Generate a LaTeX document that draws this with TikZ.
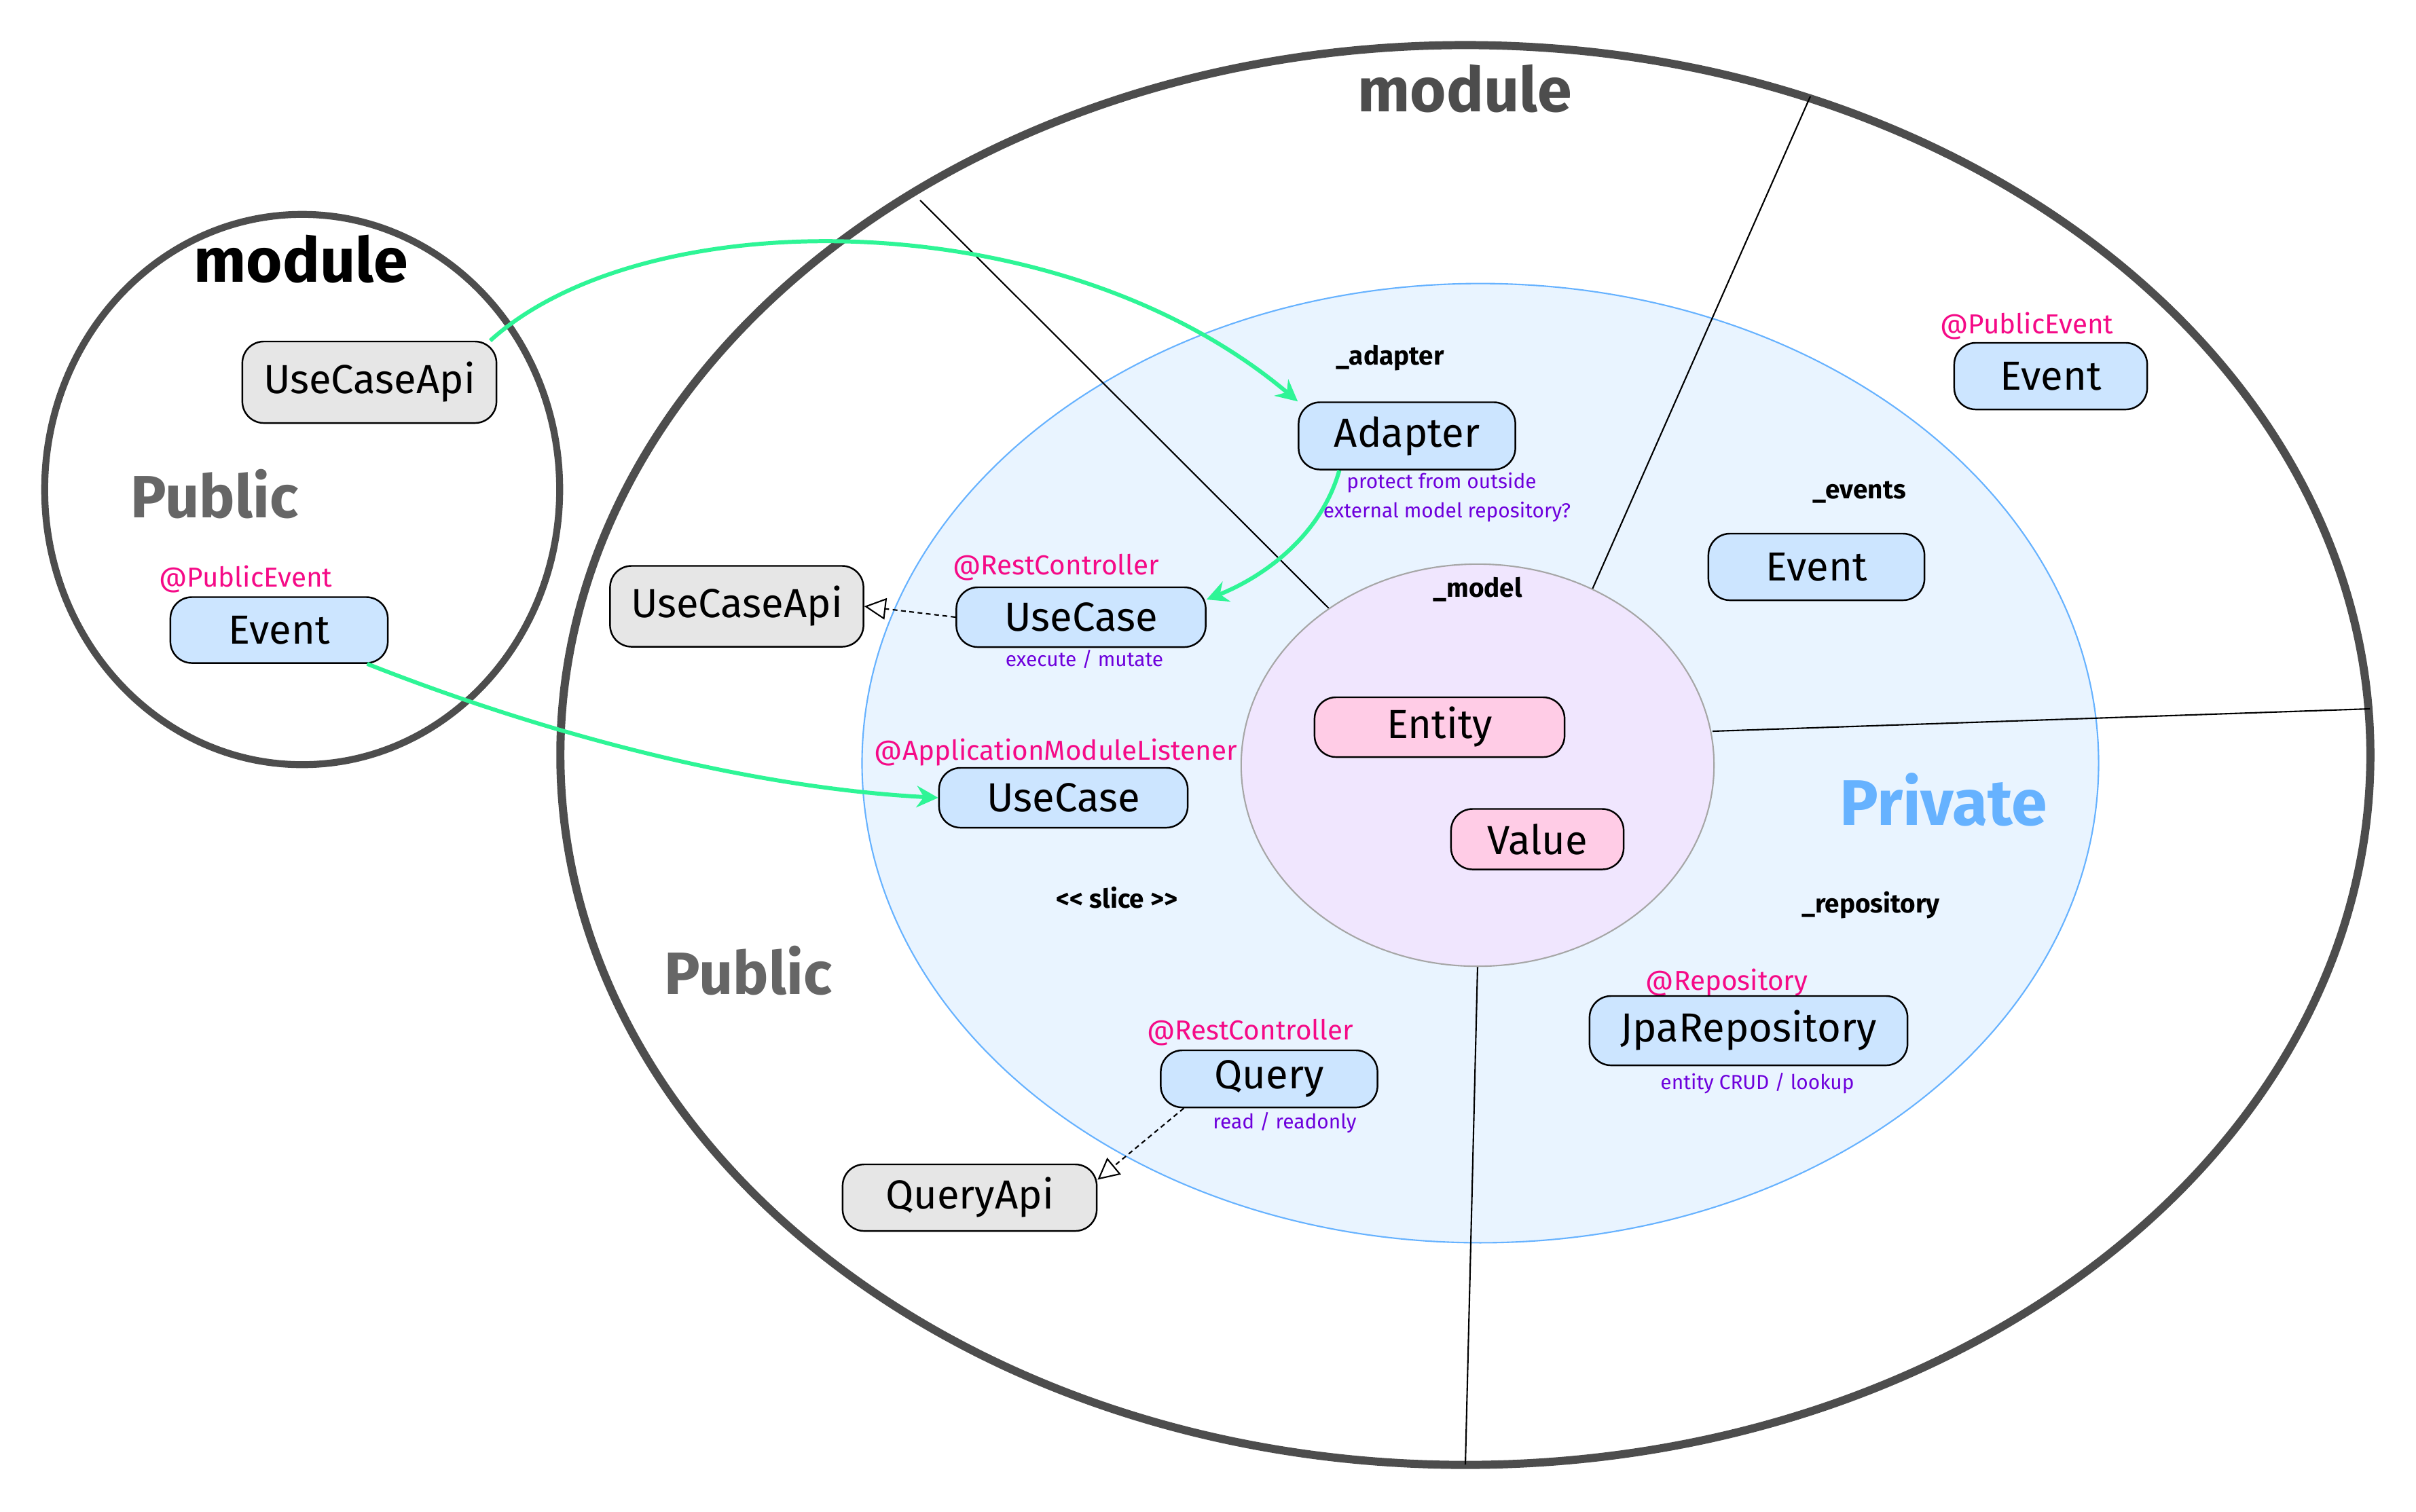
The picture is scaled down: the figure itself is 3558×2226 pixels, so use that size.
\documentclass[tikz,border=0pt]{standalone}
\usepackage{fontspec}
\setmainfont{Fira Sans}
\usetikzlibrary{arrows.meta}
\definecolor{outl}{HTML}{4D4D4D}
\definecolor{pubgrey}{HTML}{666666}
\definecolor{privblue}{HTML}{66B2FF}
\definecolor{slicefill}{HTML}{E9F4FF}
\definecolor{modelfill}{HTML}{F0E6FE}
\definecolor{modelline}{HTML}{A6A6A6}
\definecolor{boxblue}{HTML}{CCE5FF}
\definecolor{boxgrey}{HTML}{E6E6E6}
\definecolor{boxpink}{HTML}{FFCCE6}
\definecolor{annopink}{HTML}{F50A87}
\definecolor{cappurple}{HTML}{6E00DC}
\definecolor{flow}{HTML}{2EF596}
\begin{document}
\begin{tikzpicture}[x=0.01cm,y=-0.01cm,
  box/.style={draw=black, line width=0.7pt, rounded corners=9pt, inner sep=0pt,
    font=\fontsize{17}{20}\selectfont},
  bluebox/.style={box, fill=boxblue},
  greybox/.style={box, fill=boxgrey},
  pinkbox/.style={box, fill=boxpink},
  anno/.style={text=annopink, inner sep=0pt, font=\fontsize{11.5}{13}\selectfont},
  capt/.style={text=cappurple, inner sep=0pt, font=\fontsize{8.5}{10}\selectfont},
  pkg/.style={inner sep=0pt, font=\bfseries\fontsize{11}{13}\selectfont},
  title/.style={inner sep=0pt, font=\bfseries\fontsize{26}{30}\selectfont},
  zone/.style={inner sep=0pt, font=\bfseries\fontsize{25}{30}\selectfont},
  sep/.style={draw=black, line width=0.6pt},
  flowarrow/.style={draw=flow, line width=1.7pt, -{Stealth[length=9pt,width=9pt,inset=3pt]}},
  implarrow/.style={draw=black, line width=0.6pt, dash pattern=on 2pt off 1.5pt,
    -{Triangle[open,length=9pt,width=9pt]}}
]
\useasboundingbox[fill=white] (0,0) rectangle (3558,2226);

% ---------- left module ----------
\draw[outl, line width=2.9pt] (445,721) ellipse [x radius=3.79cm, y radius=4.05cm];
\node[title] (moduleL) at (443,382) {module};
\node[greybox, minimum width=3.74cm, minimum height=1.20cm] (ucapiL) at (544,563) {UseCaseApi};
\node[zone, text=pubgrey] (publicL) at (316,728) {Public};
\node[anno] (pubevL) at (362,853) {@PublicEvent};
\node[bluebox, minimum width=3.20cm, minimum height=0.97cm] (eventL) at (411,928) {Event};

% ---------- big module ----------
\draw[outl, line width=3.4pt] (2158,1112) ellipse [x radius=13.32cm, y radius=10.45cm];
\draw[draw=privblue, fill=slicefill, line width=0.6pt] (2180,1124) ellipse [x radius=9.10cm, y radius=7.06cm];

\coordinate (s1a) at (1355,295);
\coordinate (s1b) at (1961,900);
\coordinate (s2a) at (2666,142);
\coordinate (s2b) at (2344,870);
\coordinate (s3a) at (2522,1077);
\coordinate (s3b) at (3490,1044);
\coordinate (s4a) at (2176,1423);
\coordinate (s4b) at (2158,2157);
\draw[sep] (s1a) -- (s1b);
\draw[sep] (s2a) -- (s2b);
\draw[sep] (s3a) -- (s3b);
\draw[sep] (s4a) -- (s4b);

\draw[draw=modelline, fill=modelfill, line width=0.6pt] (2176,1127) ellipse [x radius=3.48cm, y radius=2.96cm];

\node[title, text=outl] (moduleR) at (2157,131) {module};

% adapter
\node[pkg] (adapterlbl) at (2047,527) {\_adapter};
\node[bluebox, minimum width=3.19cm, minimum height=0.99cm] (adapter) at (2072,642) {Adapter};
\node[capt] (protect) at (2123,711) {protect from outside};
\node[capt] (external) at (2131,754) {external model repository?};

% use case (rest)
\node[anno] (restA) at (1555,836) {@RestController};
\node[bluebox, minimum width=3.67cm, minimum height=0.88cm] (ucr) at (1592,909) {UseCase};
\node[capt] (exec) at (1597,971) {execute / mutate};
\node[greybox, minimum width=3.73cm, minimum height=1.19cm] (ucapiM) at (1085,893) {UseCaseApi};

% use case (listener)
\node[anno] (listener) at (1555,1108) {@ApplicationModuleListener};
\node[bluebox, minimum width=3.66cm, minimum height=0.88cm] (ucl) at (1566,1175) {UseCase};

\node[pkg] (slice) at (1645,1322) {<\kern0pt< slice >\kern0pt>};
\node[zone, text=pubgrey] (publicR) at (1102,1430) {Public};

% query
\node[anno] (restB) at (1841,1521) {@RestController};
\node[bluebox, minimum width=3.19cm, minimum height=0.84cm] (query) at (1869,1589) {Query};
\node[capt] (readonly) at (1892,1654) {read / readonly};
\node[greybox, minimum width=3.74cm, minimum height=0.98cm] (qapi) at (1428,1764) {QueryApi};

% events
\node[anno] (pubevR) at (2985,480) {@PublicEvent};
\node[bluebox, minimum width=2.84cm, minimum height=0.98cm] (eventTR) at (3020,554) {Event};
\node[pkg] (eventslbl) at (2738,725) {\_events};
\node[bluebox, minimum width=3.18cm, minimum height=0.98cm] (eventI) at (2675,835) {Event};

\node[inner sep=0pt, text=privblue, font=\bfseries\fontsize{27}{32}\selectfont] (private) at (2862,1178) {Private};

% repository
\node[pkg] (repolbl) at (2755,1333) {\_repository};
\node[anno] (atrepo) at (2543,1447) {@Repository};
\node[bluebox, minimum width=4.68cm, minimum height=1.02cm] (jpa) at (2575,1518) {JpaRepository};
\node[capt] (crud) at (2588,1596) {entity CRUD / lookup};

% model
\node[pkg] (modellbl) at (2176,868) {\_model};
\node[pinkbox, minimum width=3.68cm, minimum height=0.88cm] (entity) at (2120,1071) {Entity};
\node[pinkbox, minimum width=2.54cm, minimum height=0.89cm] (value) at (2264,1236) {Value};

% ---------- connectors ----------
\draw[implarrow] (ucr.west) -- (ucapiM.east);
\draw[implarrow] (query.199) -- (qapi.8);
\draw[flowarrow] (ucapiL.19) .. controls (950,295) and (1560,295) .. (adapter.north west);
\draw[flowarrow] (adapter.207) .. controls (1945,790) and (1860,850) .. (ucr.8);
\draw[flowarrow] (eventL.-21) .. controls (800,1080) and (1100,1160) .. (ucl.west);
\end{tikzpicture}
\end{document}
